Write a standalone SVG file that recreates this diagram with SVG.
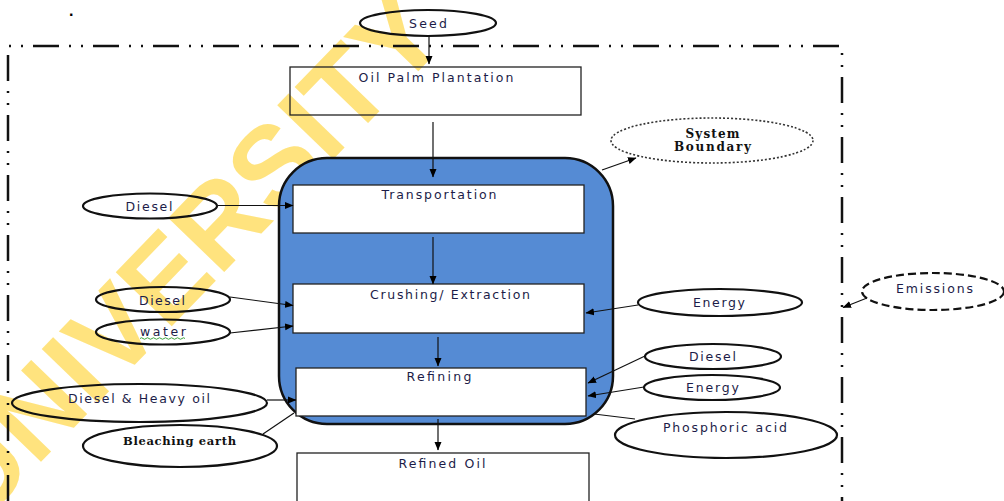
<svg xmlns="http://www.w3.org/2000/svg" width="1004" height="501" viewBox="0 0 1004 501">
<defs>
<marker id="ah" markerWidth="9" markerHeight="8" refX="8" refY="4" orient="auto" markerUnits="userSpaceOnUse"><path d="M0,0.5 L8.5,4 L0,7.5 z" fill="#000"/></marker>
<style>
.lbl{font-family:"DejaVu Sans","Liberation Sans",sans-serif;font-size:12.5px;fill:#1c1c48;text-anchor:middle}
.ser{font-family:"DejaVu Serif","Liberation Serif",serif;font-weight:bold;fill:#111;text-anchor:middle}
.box{fill:none;stroke:#222;stroke-width:1.3}
.ibox{fill:#fff;stroke:#222;stroke-width:1.3}
.ell{fill:none;stroke:#111;stroke-width:2.2}
.con{stroke:#111;stroke-width:1.2;fill:none}
</style>
</defs>
<rect width="1004" height="501" fill="#fff"/>
<text x="-21" y="526" transform="rotate(-46 -21 526)" font-family="Liberation Sans, Arial, sans-serif" font-weight="bold" font-size="113" fill="#FFE37E">UNIVERSITY OF</text>
<text x="69" y="16" font-family="Liberation Sans, sans-serif" font-size="16" font-weight="bold" fill="#000">.</text>
<path id="boundary" d="M8,501 V46 H842 V501" fill="none" stroke="#111" stroke-width="2.5" stroke-dasharray="26 10 2 10 2 10"/>
<g id="process-area"><rect x="279" y="158" width="334" height="266" rx="48" ry="48" fill="#558BD4" stroke="#111" stroke-width="2.5"/></g>
<g id="seed"><ellipse class="ell" cx="428" cy="23" rx="68" ry="13"/><text class="lbl" x="428" y="27.5" textLength="38" lengthAdjust="spacing">Seed</text></g>
<g id="plantation"><rect class="box" x="290" y="67" width="291" height="48"/><text class="lbl" x="436" y="81.5" textLength="155" lengthAdjust="spacing">Oil Palm Plantation</text></g>
<g id="transportation"><rect class="ibox" x="293" y="185" width="291" height="48"/><text class="lbl" x="439" y="198.5" textLength="115" lengthAdjust="spacing">Transportation</text></g>
<g id="crushing"><rect class="ibox" x="293" y="284" width="291" height="49"/><text class="lbl" x="450" y="298.5" textLength="160" lengthAdjust="spacing">Crushing/ Extraction</text></g>
<g id="refining"><rect class="ibox" x="296" y="368" width="290" height="48"/><text class="lbl" x="439" y="381" textLength="65" lengthAdjust="spacing">Refining</text></g>
<g id="refined-oil"><rect class="ibox" x="297" y="453" width="292" height="60"/><text class="lbl" x="442" y="467.5" textLength="87" lengthAdjust="spacing">Refined Oil</text></g>
<g id="diesel1"><ellipse class="ell" cx="150" cy="206" rx="67" ry="12.5"/><text class="lbl" x="149" y="210.5" textLength="47" lengthAdjust="spacing">Diesel</text></g>
<g id="diesel2"><ellipse class="ell" cx="163" cy="299.5" rx="67" ry="12.5"/><text class="lbl" x="162" y="304.5" textLength="46" lengthAdjust="spacing">Diesel</text></g>
<g id="water"><ellipse class="ell" cx="163" cy="332" rx="67" ry="12.5"/><text class="lbl" x="163" y="336" textLength="46" lengthAdjust="spacing">water</text><path d="M140,338.5 q1.5,-1.5 3,0 t3,0 t3,0 t3,0 t3,0 t3,0 t3,0 t3,0 t3,0 t3,0 t3,0 t3,0 t3,0 t3,0 t3,0" fill="none" stroke="#2a9a2a" stroke-width="0.9"/></g>
<g id="diesel-heavy-oil"><ellipse class="ell" cx="139.5" cy="403" rx="127.5" ry="19"/><text class="lbl" x="139" y="402.5" textLength="142" lengthAdjust="spacing">Diesel &amp; Heavy oil</text></g>
<g id="bleaching-earth"><ellipse class="ell" cx="180" cy="446" rx="97" ry="21"/><text class="ser" x="179.5" y="444.5" font-size="11.5" textLength="113" lengthAdjust="spacing">Bleaching earth</text></g>
<g id="energy1"><ellipse class="ell" cx="720" cy="302.5" rx="82" ry="13.5"/><text class="lbl" x="719" y="306.5" textLength="52" lengthAdjust="spacing">Energy</text></g>
<g id="diesel3"><ellipse class="ell" cx="713" cy="356.5" rx="68" ry="12.5"/><text class="lbl" x="712.5" y="361" textLength="47" lengthAdjust="spacing">Diesel</text></g>
<g id="energy2"><ellipse class="ell" cx="712" cy="387.5" rx="68" ry="12.5"/><text class="lbl" x="712.5" y="392" textLength="53" lengthAdjust="spacing">Energy</text></g>
<g id="phosphoric-acid"><ellipse class="ell" cx="726" cy="435" rx="111" ry="23"/><text class="lbl" x="725" y="432" textLength="124" lengthAdjust="spacing">Phosphoric acid</text></g>
<g id="emissions"><ellipse cx="933" cy="291.5" rx="71" ry="18.5" fill="none" stroke="#111" stroke-width="2.2" stroke-dasharray="8 4"/><text class="lbl" x="934.5" y="293" textLength="77" lengthAdjust="spacing">Emissions</text></g>
<g id="system-boundary"><ellipse cx="712" cy="140.5" rx="101" ry="22.5" fill="none" stroke="#333" stroke-width="1.6" stroke-dasharray="2 2"/><text class="ser" x="712.5" y="138" font-size="12" textLength="54" lengthAdjust="spacing">System</text><text class="ser" x="712.5" y="150.5" font-size="12" textLength="77" lengthAdjust="spacing">Boundary</text></g>
<g id="connectors">
<line class="con" x1="429" y1="37" x2="429" y2="64" marker-end="url(#ah)"/>
<line class="con" x1="433" y1="122" x2="433" y2="177" marker-end="url(#ah)"/>
<line class="con" x1="433" y1="237" x2="433" y2="284" marker-end="url(#ah)"/>
<line class="con" x1="438" y1="337" x2="438" y2="366" marker-end="url(#ah)"/>
<line class="con" x1="438" y1="419" x2="438" y2="450" marker-end="url(#ah)"/>
<line class="con" x1="218" y1="205.5" x2="293" y2="205.5" marker-end="url(#ah)"/>
<line class="con" x1="230" y1="297" x2="293" y2="305.5" marker-end="url(#ah)"/>
<line class="con" x1="230" y1="333" x2="293" y2="326" stroke-width="2.4" marker-end="url(#ah)"/>
<line class="con" x1="267" y1="400" x2="296" y2="400" marker-end="url(#ah)"/>
<line class="con" x1="263" y1="434" x2="294" y2="413"/>
<line class="con" x1="638" y1="305" x2="586" y2="313" marker-end="url(#ah)"/>
<line class="con" x1="645" y1="356" x2="588" y2="383" marker-end="url(#ah)"/>
<line class="con" x1="644" y1="387" x2="588" y2="396" marker-end="url(#ah)"/>
<line class="con" x1="635" y1="419" x2="594" y2="414"/>
<line class="con" x1="867" y1="298" x2="843" y2="307.5" marker-end="url(#ah)"/>
<line class="con" x1="602" y1="170" x2="636" y2="158" marker-end="url(#ah)"/>
</g>
</svg>
